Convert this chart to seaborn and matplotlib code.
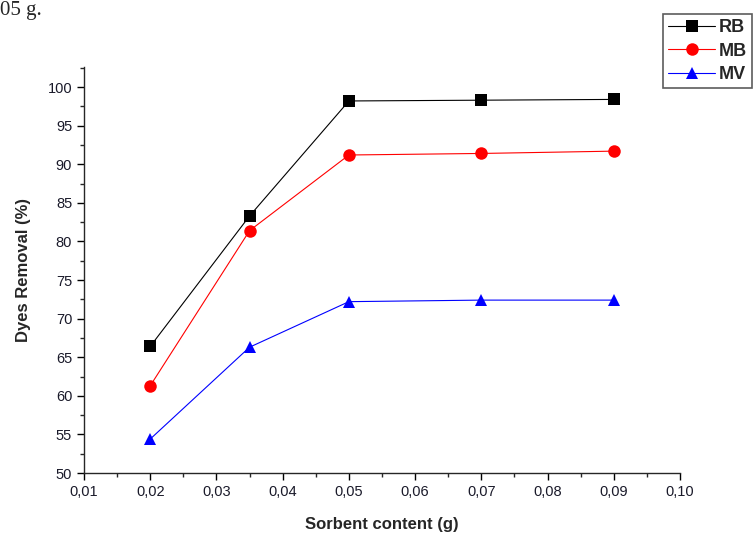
import matplotlib
matplotlib.use("Agg")
import matplotlib.pyplot as plt
from matplotlib.ticker import MultipleLocator, FuncFormatter
import seaborn as sns
import pandas as pd

sorbent = [0.02, 0.035, 0.05, 0.07, 0.09]
rb = [66.4, 83.3, 98.2, 98.3, 98.4]
mb = [61.3, 81.4, 91.2, 91.4, 91.7]
mv = [54.4, 66.3, 72.2, 72.4, 72.4]
dyes = ["RB", "MB", "MV"]
colors = ["black", "red", "blue"]
markers = ["s", "o", "^"]

df = pd.DataFrame({
    "Sorbent content (g)": sorbent * 3,
    "Dyes Removal (%)": rb + mb + mv,
    "Dye": [d for d in dyes for _ in sorbent],
})

sns.set_style("ticks")
plt.rcParams["font.family"] = ["Liberation Sans", "DejaVu Sans"]

fig = plt.figure(figsize=(7.54, 5.36), dpi=100)
ax = fig.add_axes([0.1114, 0.1175, 0.7905, 0.7575])

sns.lineplot(
    data=df, x="Sorbent content (g)", y="Dyes Removal (%)",
    hue="Dye", style="Dye", hue_order=dyes, style_order=dyes,
    palette=dict(zip(dyes, colors)), markers=dict(zip(dyes, markers)),
    dashes=False, markersize=9, linewidth=0.8, markeredgewidth=0,
    ax=ax, legend=False,
)

ax.set_xlim(0.01, 0.10)
ax.set_ylim(50, 102.6)
ax.xaxis.set_major_locator(MultipleLocator(0.01))
ax.xaxis.set_minor_locator(MultipleLocator(0.005))
ax.yaxis.set_major_locator(MultipleLocator(5))
ax.yaxis.set_minor_locator(MultipleLocator(2.5))
ax.xaxis.set_major_formatter(FuncFormatter(lambda v, p: f"{v:.2f}".replace(".", ",")))
ax.tick_params(axis="both", which="major", length=5, width=1, labelsize=10.5, colors="black")
ax.tick_params(axis="both", which="minor", length=3, width=1)
for lbl in ax.get_xticklabels() + ax.get_yticklabels():
    lbl.set_color("#1a1a2a")

sns.despine(ax=ax)
ax.spines["left"].set_linewidth(1)
ax.spines["bottom"].set_linewidth(1)

ax.set_xlabel("Sorbent content (g)", fontsize=12, fontweight="bold", labelpad=13)
ax.set_ylabel("Dyes Removal (%)", fontsize=12, fontweight="bold", labelpad=12)

# legend built from the same styles as the lines
handles = [
    plt.Line2D([], [], color=c, marker=m, markersize=9, linewidth=0.8, markeredgewidth=0)
    for c, m in zip(colors, markers)
]
leg = fig.legend(
    handles, dyes, loc="upper right", bbox_to_anchor=(0.998, 0.974),
    frameon=True, fancybox=False, edgecolor="#333333", handlelength=2.6,
    prop={"weight": "bold", "size": 13}, borderpad=0.3, labelspacing=0.35,
    handletextpad=0.2, borderaxespad=0,
)
leg.get_frame().set_linewidth(1.2)

fig.text(0.0, 0.998, "05 g.", fontsize=15, family=["Liberation Serif", "DejaVu Serif"],
         va="top", ha="left")

fig.savefig("out.png", dpi=100)
